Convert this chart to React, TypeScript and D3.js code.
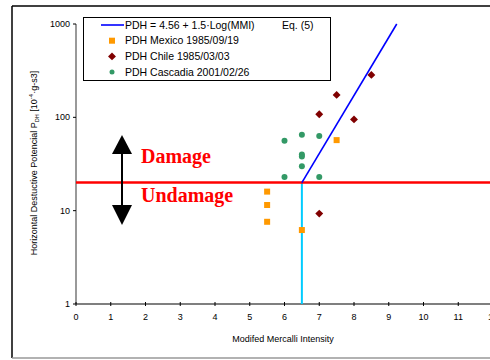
import React from "react";
import * as d3 from "d3";

// PDH equation line (Eq. 5), MMI vs PDH
const eqLine: [number, number][] = [
  [6.5, 20],
  [9.23, 1000],
];
const mexicoMMI = [5.5, 5.5, 5.5, 6.5, 7.5];
const mexicoPDH = [16, 11.5, 7.6, 6.2, 57];
const chileMMI = [8.5, 7.5, 7, 8, 7];
const chilePDH = [285, 174, 108, 95, 9.3];
const cascadiaMMI = [6, 6.5, 7, 6.5, 6.5, 6.5, 6, 7];
const cascadiaPDH = [56, 65, 63, 40, 38, 30, 23, 23];
const threshold = 20;
const thresholdMMI = 6.5;
const xTicks = [0, 1, 2, 3, 4, 5, 6, 7, 8, 9, 10, 11, 12];
const yTicks = [1, 10, 100, 1000];
const legendLabels = [
  "PDH = 4.56 + 1.5·Log(MMI)",
  "PDH Mexico 1985/09/19",
  "PDH Chile 1985/03/03",
  "PDH Cascadia 2001/02/26",
];

const W = 490;
const H = 360;

export default function App() {
  const x = d3.scaleLinear().domain([0, 12]).range([76, 493]);
  const y = d3.scaleLog().domain([1, 1000]).range([304, 24]);
  const line = d3
    .line<[number, number]>()
    .x((d) => x(d[0]))
    .y((d) => y(d[1]));
  const sans = "'Liberation Sans', Arial, sans-serif";
  const narrow = "'Liberation Sans Narrow', 'Liberation Sans', Arial, sans-serif";
  const serif = "'Liberation Serif', 'Times New Roman', serif";

  const diamond = d3.symbol().type(d3.symbolDiamond2).size(40)() as string;

  return (
    <svg
      width={W}
      height={H}
      style={{ position: "absolute", left: 0, top: 0, background: "white" }}
    >
      {/* outer frame */}
      <line x1={12} y1={6} x2={W} y2={6} stroke="#000" strokeWidth={1.5} />
      <line x1={12} y1={6} x2={12} y2={358} stroke="#000" strokeWidth={1.5} />
      <line x1={12} y1={358} x2={W} y2={358} stroke="#999" strokeWidth={1.5} />

      {/* axes */}
      <line x1={x(0)} y1={y(1)} x2={x(0)} y2={y(1000)} stroke="#777" strokeWidth={1.5} />
      <line x1={x(0)} y1={y(1)} x2={W} y2={y(1)} stroke="#000" strokeWidth={1.2} />
      {yTicks.map((t) => (
        <g key={"y" + t}>
          <line x1={x(0) - 3} x2={x(0)} y1={y(t)} y2={y(t)} stroke="#000" />
          <text
            x={x(0) - 6}
            y={y(t)}
            dy="0.35em"
            textAnchor="end"
            fontFamily={sans}
            fontSize={9}
          >
            {t}
          </text>
        </g>
      ))}
      {xTicks.map((t) => (
        <g key={"x" + t}>
          <line x1={x(t)} x2={x(t)} y1={y(1) - 2} y2={y(1) + 2} stroke="#000" />
          <text
            x={x(t)}
            y={y(1) + 16}
            textAnchor="middle"
            fontFamily={sans}
            fontSize={9}
          >
            {t}
          </text>
        </g>
      ))}

      {/* axis titles */}
      <text
        x={283}
        y={342}
        textAnchor="middle"
        fontFamily={narrow}
        fontSize={9}
      >
        Modifed Mercalli Intensity
      </text>
      <text
        transform="translate(37,163) rotate(-90)"
        textAnchor="middle"
        fontFamily={narrow}
        fontSize={9}
      >
        Horizontal Destuctive Potencial P
        <tspan fontSize={5.5} dy={2}>DH</tspan>
        <tspan dy={-2}> [10</tspan>
        <tspan fontSize={6} dy={-4}>-4</tspan>
        <tspan dy={4}>·g-s3]</tspan>
      </text>

      {/* threshold lines */}
      <line
        x1={x(thresholdMMI)}
        x2={x(thresholdMMI)}
        y1={y(threshold)}
        y2={y(1)}
        stroke="#00ccff"
        strokeWidth={2}
      />
      <line
        x1={x(0)}
        x2={W}
        y1={y(threshold)}
        y2={y(threshold)}
        stroke="#ff0000"
        strokeWidth={2.5}
      />

      {/* equation line */}
      <path d={line(eqLine) ?? ""} fill="none" stroke="#0000ff" strokeWidth={1.6} />

      {/* points */}
      {mexicoMMI.map((m, i) => (
        <rect
          key={"mx" + i}
          x={x(m) - 3}
          y={y(mexicoPDH[i]) - 3}
          width={6}
          height={6}
          fill="#ff9900"
        />
      ))}
      {chileMMI.map((m, i) => (
        <path
          key={"ch" + i}
          d={diamond}
          transform={`translate(${x(m)},${y(chilePDH[i])})`}
          fill="#800000"
        />
      ))}
      {cascadiaMMI.map((m, i) => (
        <circle
          key={"cs" + i}
          cx={x(m)}
          cy={y(cascadiaPDH[i])}
          r={3}
          fill="#339966"
        />
      ))}

      {/* damage annotation */}
      <line x1={122} x2={122} y1={150} y2={210} stroke="#000" strokeWidth={2} />
      <path d="M122,135 L112,154 L132,154 Z" fill="#000" />
      <path d="M122,225 L112,205 L132,205 Z" fill="#000" />
      <text x={141} y={163} fontFamily={serif} fontWeight="bold" fontSize={20} fill="#ff0000">
        Damage
      </text>
      <text x={141} y={202} fontFamily={serif} fontWeight="bold" fontSize={20} fill="#ff0000">
        Undamage
      </text>

      {/* legend */}
      <rect x={83.5} y={17.5} width={247} height={63} fill="white" stroke="#000" strokeWidth={1} />
      {legendLabels.map((l, i) => {
        const cy = 25 + i * 15.7;
        return (
          <g key={"lg" + i}>
            {i === 0 && (
              <line x1={101} x2={124} y1={cy} y2={cy} stroke="#0000ff" strokeWidth={1.6} />
            )}
            {i === 1 && <rect x={109} y={cy - 3} width={6} height={6} fill="#ff9900" />}
            {i === 2 && (
              <path d={diamond} transform={`translate(112,${cy})`} fill="#800000" />
            )}
            {i === 3 && <circle cx={112} cy={cy} r={2.5} fill="#339966" />}
            <text x={125} y={cy} dy="0.35em" fontFamily={sans} fontSize={10.5}>
              {l}
            </text>
            {i === 0 && (
              <text x={282} y={cy} dy="0.35em" fontFamily={sans} fontSize={10.5}>
                Eq. (5)
              </text>
            )}
          </g>
        );
      })}
    </svg>
  );
}
